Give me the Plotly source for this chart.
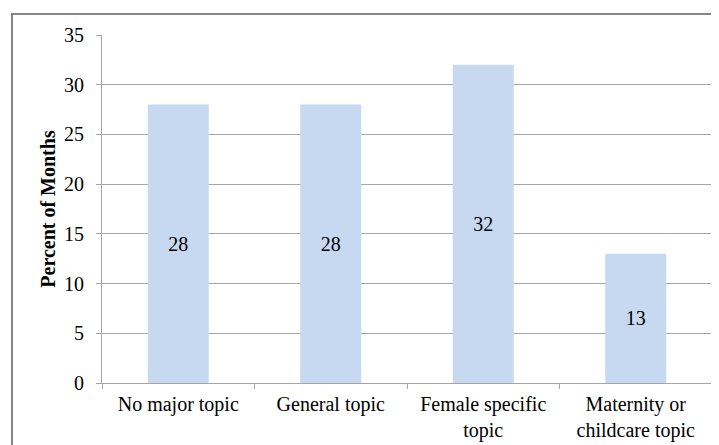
import plotly.graph_objects as go

categories = ["No major topic", "General topic", "Female specific<br>topic", "Maternity or<br>childcare topic"]
values = [28, 28, 32, 13]
y_ticks = [0, 5, 10, 15, 20, 25, 30, 35]

font_family = "Liberation Serif"

fig = go.Figure(go.Bar(
    x=categories, y=values,
    marker=dict(color="#C6D9F1", line=dict(width=0)),
    text=[str(v) for v in values],
    textposition="inside",
    insidetextanchor="middle",
    textfont=dict(family=font_family, size=20, color="#000000"),
    hoverinfo="skip",
))

# page body has an 8px offset; figure sized to fit the 719x445 window
W, H = 711, 437
L, R, T, B = 94, 7, 27, 62
pw, ph = W - L - R, H - T - B

fig.update_layout(
    width=W, height=H,
    margin=dict(l=L, r=R, t=T, b=B, autoexpand=False),
    paper_bgcolor="white", plot_bgcolor="white",
    bargap=0.6,
    showlegend=False,
    font=dict(family=font_family, size=20, color="#000000"),
    xaxis=dict(
        showline=True, linecolor="#A6A6A6", linewidth=1,
        ticks="outside", tickson="boundaries", ticklen=5, tickcolor="#A6A6A6",
        tickfont=dict(family=font_family, size=20),
        ticklabelstandoff=3,
        showgrid=False, automargin=False,
    ),
    yaxis=dict(
        range=[0, 35], tickvals=y_ticks,
        showline=True, linecolor="#A6A6A6", linewidth=1,
        ticks="outside", ticklen=5, tickcolor="#A6A6A6",
        showgrid=True, gridcolor="#A6A6A6", gridwidth=1,
        zeroline=False, automargin=False,
        tickfont=dict(family=font_family, size=20),
        ticklabelstandoff=8,
        title=dict(text="<b>Percent of Months</b>", font=dict(family=font_family, size=20), standoff=3),
    ),
    shapes=[dict(
        type="rect", xref="paper", yref="paper",
        x0=(4 - L) / pw, x1=(W + 20 - L) / pw,
        y0=-(B + 20) / ph, y1=(ph + T - 6) / ph,
        line=dict(color="#868686", width=2), fillcolor="rgba(0,0,0,0)", layer="below",
    )],
)

fig.write_html("out.html")
